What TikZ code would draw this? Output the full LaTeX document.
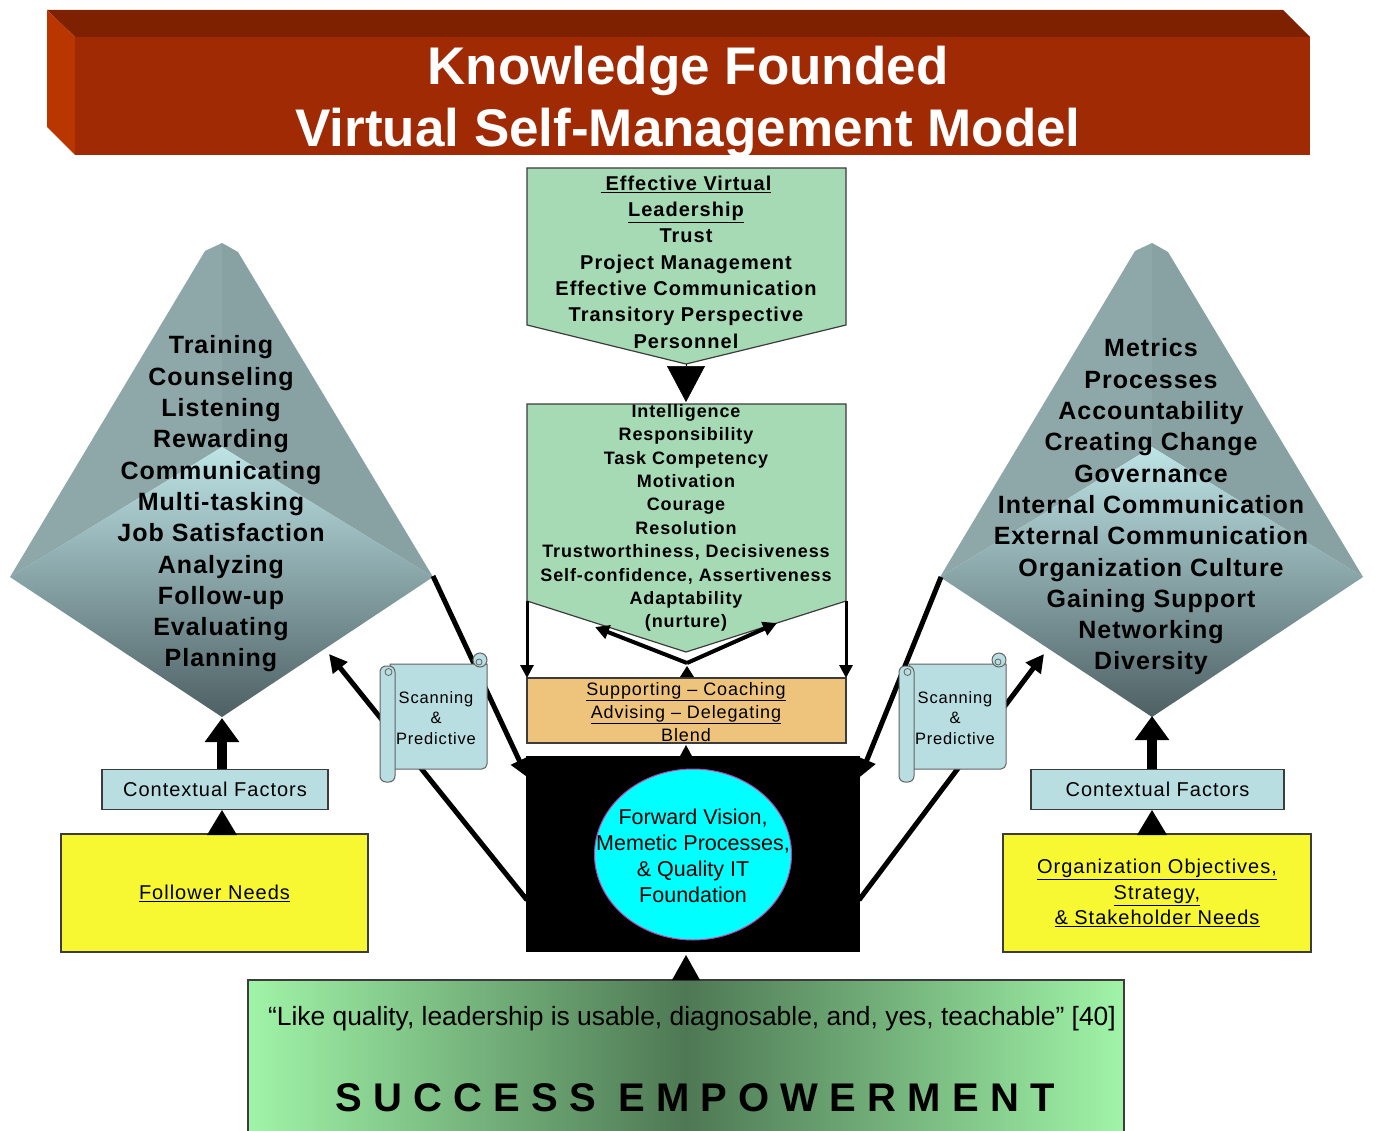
\documentclass[tikz,border=0pt]{standalone}
\usepackage{fontspec}
\setmainfont{Liberation Sans}
\newfontfamily\spacedA[LetterSpace=5]{Liberation Sans}
\newfontfamily\spacedB[LetterSpace=4]{Liberation Sans}
\newfontfamily\spacedW[LetterSpace=28]{Liberation Sans}
\usetikzlibrary{arrows.meta,shapes.geometric}

\definecolor{bannerfront}{RGB}{160,42,4}
\definecolor{bannertop}{RGB}{126,33,0}
\definecolor{bannerside}{RGB}{186,54,0}
\definecolor{mint}{RGB}{166,218,180}
\definecolor{apricot}{RGB}{238,196,124}
\definecolor{paleblue}{RGB}{184,222,226}
\definecolor{lemon}{RGB}{248,248,50}
\definecolor{edgegray}{RGB}{60,60,60}
\definecolor{pyrtopL}{RGB}{142,167,169}
\definecolor{pyrtopR}{RGB}{136,162,164}
\definecolor{pyrhigh}{RGB}{190,228,230}
\definecolor{pyrmid}{RGB}{148,178,180}
\definecolor{pyrlow}{RGB}{78,96,100}
\definecolor{aqua}{RGB}{0,255,255}
\definecolor{rimpink}{RGB}{200,60,170}
\definecolor{meadow}{RGB}{160,244,168}
\definecolor{forest}{RGB}{78,120,84}

\newcommand\setfs[2]{\fontsize{#1}{#2}\selectfont}

\begin{document}
\begin{tikzpicture}[x=1pt, y=-1pt,
  heavy/.style={line width=5pt, draw=black},
  diagtip/.style={-{Triangle[length=18pt,width=18pt]}},
  panel/.style={draw=edgegray, line width=1.2pt},
  txt/.style={inner sep=0pt, align=center, text=black},
  scrollpart/.style={fill=paleblue, draw=edgegray!80, line width=1pt},
  curl/.style={draw=edgegray!80, line width=0.8pt},
  upshaft/.style={line width=10pt, -{Triangle[length=24pt,width=33pt]}},
  sidearrow/.style={line width=3pt, -{Triangle[length=13pt,width=13pt]}},
  forkarrow/.style={line width=4pt, -{Triangle[length=14pt,width=14pt]}}]

\useasboundingbox (0,0) rectangle (1375,1131);
\fill[white] (0,0) rectangle (1375,1131);

% ---- title banner (3D block) ----
\fill[bannertop] (47,10) -- (1283,10) -- (1310,37) -- (75,37) -- cycle;
\fill[bannerside] (47,10) -- (75,37) -- (75,155) -- (47,127) -- cycle;
\fill[bannerfront] (75,37) rectangle (1310,155);
\node[txt, text=white, font={\bfseries\setfs{53}{61.7}}] (title) at (688,102)
  {Knowledge Founded\\Virtual Self-Management Model};

% ---- the two pyramids ----
\foreach \dx in {0,930}{
  \begin{scope}[xshift=\dx pt]
    \fill[pyrtopL] (10,577) -- (205,251) -- (222,243) -- (222,447) -- cycle;
    \fill[pyrtopR] (222,243) -- (238,252) -- (433,577) -- (222,447) -- cycle;
    \shade[top color=pyrhigh, middle color=pyrmid, bottom color=pyrlow]
      (10,577) -- (222,447) -- (433,577) -- (222,717) -- cycle;
  \end{scope}
}
\coordinate (pyrLright) at (433,576);
\coordinate (pyrLfoot)  at (222,718);
\coordinate (pyrLedge)  at (329,654);
\coordinate (pyrRleft)  at (941,577);
\coordinate (pyrRfoot)  at (1152,716);
\coordinate (pyrRedge)  at (1044,654);

\node[txt, font={\spacedB\bfseries\setfs{25}{31.3}}] (skills) at (221,504)
  {Training\\Counseling\\Listening\\Rewarding\\Communicating\\Multi-tasking\\Job Satisfaction\\Analyzing\\Follow-up\\Evaluating\\Planning};
\node[txt, font={\spacedB\bfseries\setfs{25}{31.3}}] (orgfactors) at (1151,507)
  {Metrics\\Processes\\Accountability\\Creating Change\\Governance\\Internal Communication\\External Communication\\Organization Culture\\Gaining Support\\Networking\\Diversity};

% ---- central column ----
\filldraw[panel, fill=mint] (527,168) -- (846,168) -- (846,325) -- (686,364) -- (527,325) -- cycle;
\node[txt, font={\spacedA\bfseries\setfs{20}{26.3}}] (lead) at (686,262)
  {\underline{\hspace{5pt}Effective Virtual}\\\underline{Leadership}\\Trust\\Project Management\\Effective Communication\\Transitory Perspective\\Personnel};
\coordinate (leadtip) at (686,364);
\coordinate (traitstop) at (686,402);
\draw[line width=0.5pt, -{Triangle[length=36pt,width=38pt]}] (leadtip) -- (traitstop);

\filldraw[panel, fill=mint] (527,404) -- (846,404) -- (846,601) -- (686,652) -- (527,601) -- cycle;
\node[txt, font={\spacedA\bfseries\setfs{18}{23.4}}] (traits) at (686,518)
  {Intelligence\\Responsibility\\Task Competency\\Motivation\\Courage\\Resolution\\Trustworthiness, Decisiveness\\Self-confidence, Assertiveness\\Adaptability\\(nurture)};

\node[panel, fill=apricot, minimum width=319pt, minimum height=65pt, inner sep=0pt] (blend) at (686.5,710.5) {};
\node[txt, font={\spacedA\setfs{18}{23}}] (blendtxt) at (686,712)
  {\underline{Supporting – Coaching}\\\underline{Advising – Delegating}\\Blend};

% arrows from the traits panel down to the blend box
\coordinate (trL) at (527,601);
\coordinate (trR) at (846,601);
\coordinate (blendL) at (527,678);
\coordinate (blendR) at (846,678);
\draw[sidearrow] (trL) -- (blendL);
\draw[sidearrow] (trR) -- (blendR);

% fork rising from the blend box
\coordinate (fork)  at (687,663);
\coordinate (forkL) at (595,627);
\coordinate (forkR) at (777,623);
\draw[forkarrow] (fork) -- (forkL);
\draw[forkarrow] (fork) -- (forkR);
\fill (fork) ++(0,3) -- ++(-7,11) -- ++(14,0) -- cycle;

% foundation block
\node[fill=black, minimum width=334pt, minimum height=196pt, inner sep=0pt] (core) at (693,854) {};
\fill (686,745) -- (679.5,757) -- (692.5,757) -- cycle;
\node[ellipse, fill=aqua, draw=rimpink, line width=1pt, minimum width=197pt, minimum height=171pt, inner sep=0pt] (vision) at (693,854.5) {};
\node[txt, font={\setfs{21.5}{26.1}}] (visiontxt) at (693,856)
  {Forward Vision,\\Memetic Processes,\\\& Quality IT\\Foundation};

% ---- heavy diagonal links (scrolls sit on top of them) ----
\coordinate (coreTL) at (527,777);
\coordinate (coreTR) at (860,777);
\coordinate (coreL)  at (527,900);
\coordinate (coreR)  at (859,900);
\draw[heavy, diagtip] (pyrLright) -- (coreTL);
\draw[heavy, diagtip] (coreL) -- (pyrLedge);
\draw[heavy, diagtip] (pyrRleft) -- (coreTR);
\draw[heavy, diagtip] (coreR) -- (pyrRedge);

% ---- scrolls ----
\foreach \dx in {0,519}{
  \begin{scope}[xshift=\dx pt]
    \path[scrollpart] (390,664) -- (487,664) -- (487,764) -- (485.5,767.5) -- (482,769) -- (390,769) -- cycle;
    \path[scrollpart] (480,660) circle[radius=7pt];
    \draw[curl] (479,662) circle[radius=3pt];
    \path[scrollpart, rounded corners=6pt] (380,666) rectangle (395,782);
    \draw[curl] (388.5,672) circle[radius=3.5pt];
  \end{scope}
}
\node[txt, font={\spacedA\setfs{16.5}{20.5}}] (scanL) at (436,718) {Scanning\\\&\\Predictive};
\node[txt, font={\spacedA\setfs{16.5}{20.5}}] (scanR) at (955,718) {Scanning\\\&\\Predictive};

% ---- contextual factors and needs ----
\node[panel, fill=paleblue, minimum width=226pt, minimum height=40pt, inner sep=0pt,
      font={\spacedA\setfs{20}{24}}] (ctxL) at (215,789.5) {Contextual Factors};
\node[panel, fill=paleblue, minimum width=253pt, minimum height=40pt, inner sep=0pt,
      font={\spacedA\setfs{20}{24}}] (ctxR) at (1157.5,789.5) {Contextual Factors};

\node[panel, fill=lemon, minimum width=307pt, minimum height=118pt, inner sep=0pt,
      font={\spacedA\setfs{20}{25.5}}] (needL) at (214.5,893) {\underline{Follower Needs}};
\node[panel, fill=lemon, minimum width=308pt, minimum height=118pt, inner sep=0pt, align=center,
      font={\spacedA\setfs{20}{25.5}}] (needR) at (1157,893)
  {\underline{Organization Objectives,}\\\underline{Strategy,}\\\underline{\& Stakeholder Needs}};

\coordinate (ctxLtop) at (222,769);
\coordinate (ctxRtop) at (1152,769);
\draw[upshaft] (ctxLtop) -- (pyrLfoot);
\draw[upshaft] (ctxRtop) -- (pyrRfoot);

\coordinate (needLtop) at (222,835);
\coordinate (needRtop) at (1152,835);
\fill (needLtop) ++(0,-25) -- ++(-15,25) -- ++(30,0) -- cycle;
\fill (needRtop) ++(0,-25) -- ++(-15,25) -- ++(30,0) -- cycle;

% ---- bottom banner ----
\node[left color=meadow, right color=meadow, middle color=forest, minimum width=876pt,
      minimum height=151pt, inner sep=0pt] (quotebox) at (686,1055.5) {};
\draw[edgegray, line width=1.2pt] (248,1131) -- (248,980) -- (1124,980) -- (1124,1131);
\coordinate (quotetop) at (686,980);
\fill (quotetop) ++(0,-25) -- ++(-14,25) -- ++(28,0) -- cycle;

\node[txt, anchor=base, font={\setfs{26.4}{30}}] (quote) at (692,1025.5)
  {“Like quality, leadership is usable, diagnosable, and, yes, teachable” [40]};
\node[txt, anchor=base, font={\spacedW\bfseries\setfs{40}{48}}] (motto) at (695,1111)
  {SUCCESS EMPOWERMENT};
\end{tikzpicture}
\end{document}
